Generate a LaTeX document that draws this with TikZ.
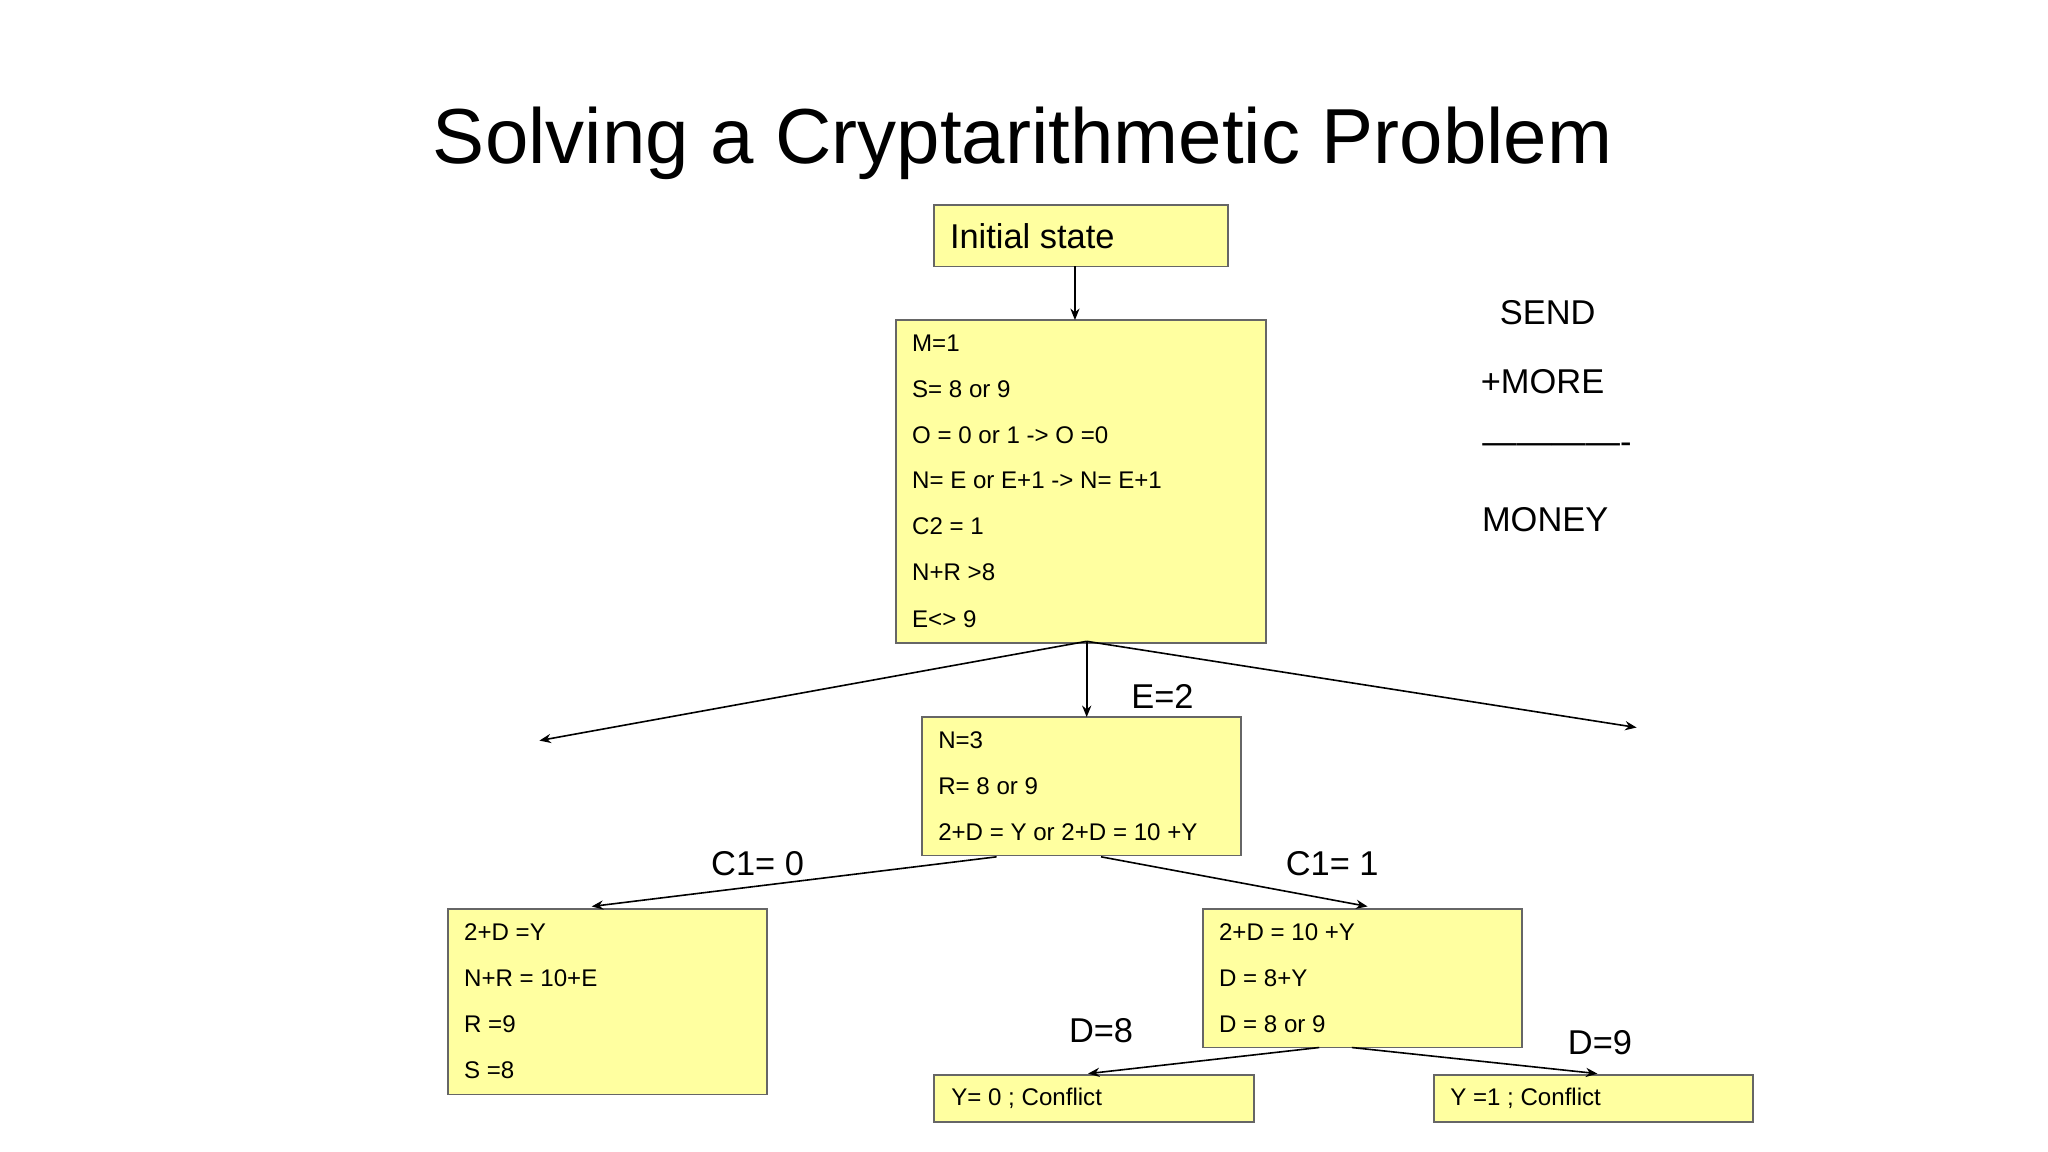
\documentclass[tikz,border=0pt]{standalone}
\usepackage{fontspec}
\setmainfont{Liberation Sans}
\usetikzlibrary{arrows.meta}
\begin{document}
\begin{tikzpicture}[x=0.02cm,y=-0.02cm,
 box/.style={draw=black!60,fill={rgb,255:red,255;green,255;blue,160},line width=0.8pt,inner sep=0},
 tx/.style={anchor=west,font=\fontsize{10.5}{12}\selectfont,inner sep=0},
 lab/.style={font=\fontsize{15}{18}\selectfont,inner sep=0},
 arr/.style={-{Stealth[length=5pt,width=4pt]},line width=0.7pt}]
\useasboundingbox (0,0) rectangle (1568,882);
\node[font=\fontsize{34}{40}\selectfont] (title) at (783,110) {Solving a Cryptarithmetic Problem};
% boxes
\path[box] (715,157) rectangle (940,204); \node[box,draw=none,fill=none,minimum width=0] (b1) at (827.5,180.5) {};
\node[anchor=west,font=\fontsize{15}{18}\selectfont,inner sep=0] (t1) at (727,181) {Initial state};
\path[box] (686,245) rectangle (969,492);
\path[box] (706,549) rectangle (950,655);
\path[box] (343,696) rectangle (587,838);
\path[box] (921,696) rectangle (1165,802);
\path[box] (715,823) rectangle (960,859);
\path[box] (1098,823) rectangle (1342,859);
% texts
\node[tx] (a1) at (698,263) {M=1};
\node[tx] (a2) at (698,298) {S= 8 or 9};
\node[tx] (a3) at (698,333) {O = 0 or 1 -> O =0};
\node[tx] (a4) at (698,368) {N= E or E+1 -> N= E+1};
\node[tx] (a5) at (698,403) {C2 = 1};
\node[tx] (a6) at (698,438) {N+R >8};
\node[tx] (a7) at (698,474) {E<> 9};
\node[tx] (c1) at (718,567) {N=3};
\node[tx] (c2) at (718,602) {R= 8 or 9};
\node[tx] (c3) at (718,637) {2+D = Y or 2+D = 10 +Y};
\node[tx] (d1) at (355,714) {2+D =Y};
\node[tx] (d2) at (355,749) {N+R = 10+E};
\node[tx] (d3) at (355,784) {R =9};
\node[tx] (d4) at (355,819) {S =8};
\node[tx] (e1) at (933,714) {2+D = 10 +Y};
\node[tx] (e2) at (933,749) {D = 8+Y};
\node[tx] (e3) at (933,784) {D = 8 or 9};
\node[tx] (f1) at (728,841) {Y= 0 ; Conflict};
\node[tx] (g1) at (1110,841) {Y =1 ; Conflict};
% labels
\node[lab] (l1) at (890,533) {E=2};
\node[lab] (l2) at (580,661) {C1= 0};
\node[lab] (l3) at (1020,661) {C1= 1};
\node[lab] (l4) at (843,789) {D=8};
\node[lab] (l5) at (1225,798) {D=9};
\node[lab] (s1) at (1185,239) {SEND};
\node[lab] (s2) at (1181,292) {+MORE};
\node[lab] (s3) at (1192,343) {-------------};
\node[lab] (s4) at (1183,398) {MONEY};
% connectors
\coordinate (p1) at (823,204); \coordinate (p2) at (823,245);
\coordinate (q) at (832,491); \coordinate (qL) at (413,567); \coordinate (qR) at (1253,557); \coordinate (qD) at (832,549);
\coordinate (r1) at (763,656); \coordinate (r1e) at (453,694);
\coordinate (r2) at (843,656); \coordinate (r2e) at (1047,694);
\coordinate (u1) at (1010,802); \coordinate (u1e) at (833,822);
\coordinate (u2) at (1035,802); \coordinate (u2e) at (1223,822);
\draw[arr] (p1) -- (p2);
\draw[arr] (q) -- (qL);
\draw[arr] (q) -- (qR);
\draw[arr] (q) -- (qD);
\draw[arr] (r1) -- (r1e);
\draw[arr] (r2) -- (r2e);
\draw[arr] (u1) -- (u1e);
\draw[arr] (u2) -- (u2e);
\end{tikzpicture}
\end{document}
